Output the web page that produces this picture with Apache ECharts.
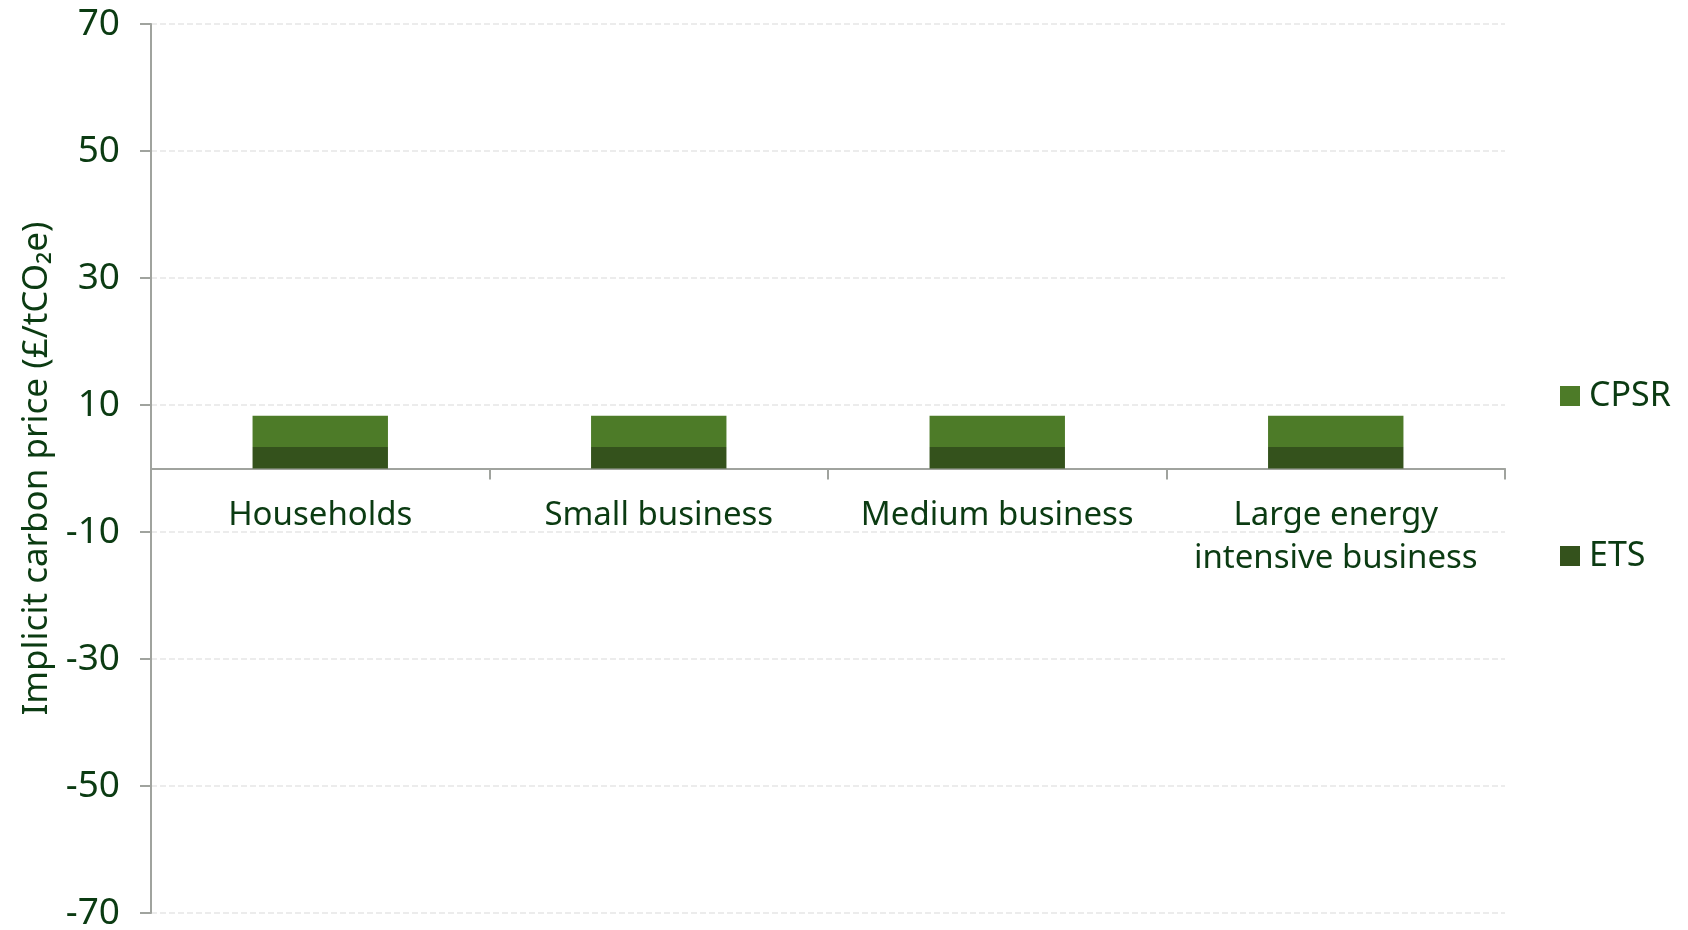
<!DOCTYPE html>
<html>
<head>
<meta charset="utf-8">
<script src="https://cdn.jsdelivr.net/npm/echarts@6/dist/echarts.min.js"></script>
<style>
  html, body { margin: 0; padding: 0; background: #fff; }
  #chart { width: 1688px; height: 930px; }
</style>
</head>
<body>
<div id="chart"></div>
<script>
  const categories = ['Households', 'Small business', 'Medium business', 'Large energy\nintensive business'];
  const etsValues = [3.4, 3.4, 3.4, 3.4];
  const cpsrValues = [4.9, 4.9, 4.9, 4.9];
  const yTicks = { min: -70, max: 70, interval: 20 };

  const textColor = '#0b3b12';
  const axisColor = '#a0a39e';
  const fontFamily = '"Noto Sans", sans-serif';

  const myChart = echarts.init(document.getElementById('chart'));
  const option = {
    backgroundColor: '#fff',
    animation: false,
    textStyle: { fontFamily: fontFamily, color: textColor },
    grid: { left: 151, right: 183, top: 24, bottom: 17, containLabel: false, outerBoundsMode: 'none' },
    legend: [
      {
        orient: 'vertical',
        left: 1555,
        top: 374,
        itemWidth: 20,
        itemHeight: 20,
        icon: 'rect',
        data: ['CPSR'],
        textStyle: { fontSize: 34, color: textColor, fontFamily: fontFamily, padding: [0, 0, 0, 4] }
      },
      {
        orient: 'vertical',
        left: 1555,
        top: 534,
        itemWidth: 20,
        itemHeight: 20,
        icon: 'rect',
        data: ['ETS'],
        textStyle: { fontSize: 34, color: textColor, fontFamily: fontFamily, padding: [0, 0, 0, 4] }
      }
    ],
    xAxis: [
      {
        // axis line and ticks at zero
        type: 'category',
        data: categories,
        axisLine: { onZero: true, lineStyle: { color: axisColor, width: 2 } },
        axisTick: { show: true, length: 11, lineStyle: { color: axisColor, width: 2 } },
        axisLabel: { show: false },
        splitLine: { show: false }
      },
      {
        // category labels just under the zero line
        type: 'category',
        data: categories,
        position: 'bottom',
        offset: -445,
        axisLine: { show: false },
        axisTick: { show: false },
        axisLabel: { fontSize: 33, color: textColor, margin: 26, lineHeight: 43, interval: 0 },
        splitLine: { show: false }
      }
    ],
    yAxis: {
      type: 'value',
      min: yTicks.min,
      max: yTicks.max,
      interval: yTicks.interval,
      name: 'Implicit carbon price (£/tCO₂e)',
      nameLocation: 'middle',
      nameGap: 96,
      nameTextStyle: { fontSize: 35, color: textColor },
      axisLine: { show: true, lineStyle: { color: axisColor, width: 2 } },
      axisTick: { show: true, length: 11, lineStyle: { color: axisColor, width: 2 } },
      axisLabel: { fontSize: 37, color: textColor, margin: 31 },
      splitLine: { show: true, lineStyle: { color: '#e6e6e6', type: 'dashed', width: 1.5 } }
    },
    series: [
      {
        name: 'ETS',
        type: 'bar',
        stack: 'total',
        barWidth: '40%',
        itemStyle: { color: '#34521c' },
        data: etsValues
      },
      {
        name: 'CPSR',
        type: 'bar',
        stack: 'total',
        barWidth: '40%',
        itemStyle: { color: '#4d7b28' },
        data: cpsrValues
      }
    ]
  };
  myChart.setOption(option);
</script>
</body>
</html>
